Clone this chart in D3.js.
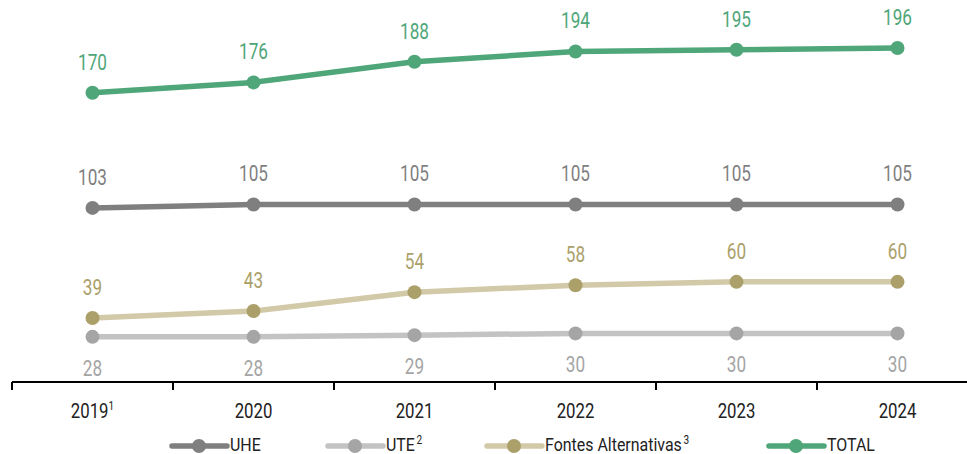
<!DOCTYPE html>
<html><head><meta charset="utf-8">
<script src="https://cdn.jsdelivr.net/npm/d3@7"></script>
<style>
body{margin:0;background:#fff;}
text{font-family:"Roboto","Liberation Sans",sans-serif;}
</style></head>
<body><svg id="c" width="967" height="454"></svg>
<script>
const categories = ["2019", "2020", "2021", "2022", "2023", "2024"];
const categorySup = ["1", "", "", "", "", ""];
const uhe = [103, 105, 105, 105, 105, 105];
const ute = [28, 28, 29, 30, 30, 30];
const fontes = [39, 43, 54, 58, 60, 60];
const total = [170, 176, 188, 194, 195, 196];
const seriesNames = ["UHE", "UTE", "Fontes Alternativas", "TOTAL"];
const seriesSup = ["", "2", "3", ""];

const series = [
  {name: seriesNames[0], sup: seriesSup[0], values: uhe, line: "#7f7f7f", dot: "#7f7f7f", label: "#7f7f7f", below: false},
  {name: seriesNames[1], sup: seriesSup[1], values: ute, line: "#c3c3c3", dot: "#a5a5a5", label: "#a5a5a5", below: true},
  {name: seriesNames[2], sup: seriesSup[2], values: fontes, line: "#d2c9a8", dot: "#ab9f6a", label: "#ab9f6a", below: false},
  {name: seriesNames[3], sup: seriesSup[3], values: total, line: "#4ea679", dot: "#4ea679", label: "#4ea679", below: false}
];

const SXL = 0.78; // data labels
const SXT = 0.84; // axis & legend text
const svg = d3.select("#c");
const x = d3.scaleBand().domain(categories).range([12, 978]);
const y = d3.scaleLinear().domain([0, 196]).range([385, 48]);
const cx = c => x(c) + x.bandwidth() / 2;

// axis
const axisY = 382;
svg.append("line").attr("x1", 12).attr("x2", 967).attr("y1", axisY).attr("y2", axisY)
  .attr("stroke", "#000").attr("stroke-width", 2);
svg.selectAll(".tk").data(categories).join("line")
  .attr("x1", d => x(d)).attr("x2", d => x(d)).attr("y1", axisY).attr("y2", axisY + 8)
  .attr("stroke", "#000").attr("stroke-width", 2);

const cl = svg.selectAll(".cl").data(categories).join("text")
  .attr("transform", d => `translate(${cx(d)},418) scale(${SXT},1)`)
  .attr("text-anchor", "middle").attr("font-size", 20).attr("fill", "#222");
cl.append("tspan").text(d => d);
cl.append("tspan").attr("font-size", 12).attr("dy", -8).text((d, i) => categorySup[i]);

const line = d3.line().x((d, i) => cx(categories[i])).y(d => y(d));

series.forEach(s => {
  const g = svg.append("g");
  g.append("path").attr("d", line(s.values)).attr("fill", "none")
    .attr("stroke", s.line).attr("stroke-width", 5.5).attr("stroke-linejoin", "round");
  g.selectAll("circle").data(s.values).join("circle")
    .attr("cx", (d, i) => cx(categories[i])).attr("cy", d => y(d))
    .attr("r", 7).attr("fill", s.dot);
  g.selectAll("text").data(s.values).join("text")
    .attr("transform", (d, i) => `translate(${cx(categories[i])},${s.below ? y(d) + 39 : y(d) - 23}) scale(${SXL},1)`)
    .attr("text-anchor", "middle").attr("font-size", 22).attr("fill", s.label)
    .text(d => d);
});

// legend
const legendX = [172, 328, 487, 769];
series.forEach((s, i) => {
  const lx = legendX[i], ly = 446;
  svg.append("line").attr("x1", lx).attr("x2", lx + 55).attr("y1", ly).attr("y2", ly)
    .attr("stroke", s.line).attr("stroke-width", 5.5).attr("stroke-linecap", "round");
  svg.append("circle").attr("cx", lx + 27).attr("cy", ly).attr("r", 7).attr("fill", s.dot);
  const t = svg.append("text").attr("transform", `translate(${lx + 58},451) scale(${SXT},1)`)
    .attr("font-size", 19).attr("fill", "#222");
  t.append("tspan").text(s.name);
  t.append("tspan").attr("font-size", 12).attr("dy", -7).attr("dx", 2).text(s.sup);
});
</script></body></html>
